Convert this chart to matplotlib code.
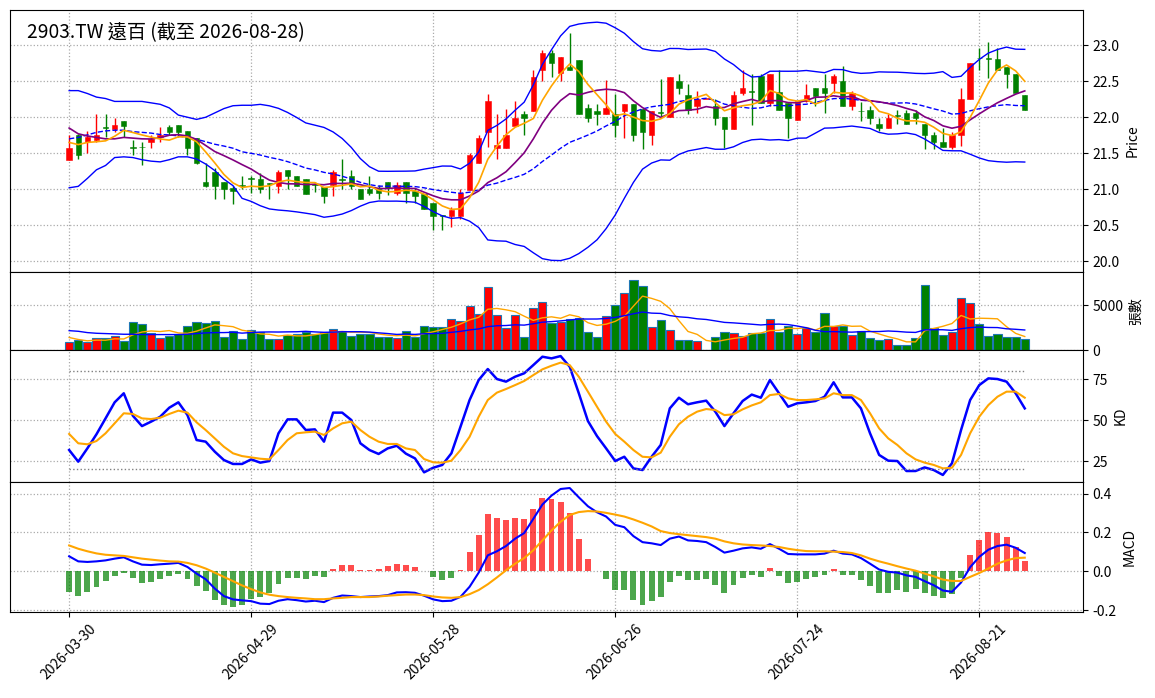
import numpy as np
import pandas as pd
import matplotlib
matplotlib.use("Agg")
import matplotlib.pyplot as plt

plt.rcParams['font.family'] = ['Noto Sans CJK TC', 'DejaVu Sans']
plt.rcParams['axes.unicode_minus'] = False
plt.rcParams['font.size'] = 10

# trading days (TW holidays removed)
holidays = ['2026-04-03', '2026-04-06', '2026-05-01', '2026-06-19']
dates = pd.bdate_range('2026-03-30', '2026-08-28')
dates = dates[~dates.isin(pd.to_datetime(holidays))]

open_ = [21.41, 21.75, 21.65, 21.69, 21.86, 21.84, 21.95, 21.58, 21.59, 21.65,
         21.72, 21.86, 21.89, 21.81, 21.71, 21.10, 21.24, 21.10, 21.02, 21.06,
         21.15, 21.14, 21.08, 21.04, 21.27, 21.18, 21.14, 21.07, 21.03, 21.06,
         21.14, 21.18, 21.00, 21.00, 21.02, 21.10, 20.95, 21.10, 20.97, 20.93,
         20.81, 20.64, 20.63, 20.63, 20.99, 21.37, 21.80, 21.57, 21.57, 21.88,
         22.04, 22.08, 22.65, 22.89, 22.61, 22.70, 22.79, 22.13, 22.09, 22.04,
         22.04, 22.08, 22.19, 22.11, 21.76, 22.07, 22.01, 22.51, 22.31, 22.15,
         22.26, 22.15, 22.00, 21.84, 22.34, 22.36, 22.57, 22.20, 22.35, 22.20,
         21.96, 22.23, 22.40, 22.40, 22.47, 22.51, 22.16, 22.09, 22.10, 21.90,
         21.85, 22.03, 22.06, 22.06, 21.90, 21.75, 21.66, 21.59, 21.75, 22.25,
         22.83, 22.82, 22.81, 22.70, 22.60, 22.31]
high = [21.76, 21.77, 21.81, 22.04, 22.04, 21.99, 21.95, 21.69, 21.65, 21.75,
        21.86, 21.89, 21.89, 21.81, 21.71, 21.37, 21.30, 21.10, 21.04, 21.18,
        21.18, 21.22, 21.09, 21.27, 21.27, 21.18, 21.14, 21.10, 21.03, 21.27,
        21.42, 21.27, 21.00, 21.18, 21.06, 21.10, 21.10, 21.10, 21.02, 20.93,
        20.81, 20.64, 20.76, 21.00, 21.50, 21.75, 22.32, 22.04, 22.12, 22.23,
        22.09, 22.65, 22.93, 22.93, 22.84, 23.17, 22.79, 22.19, 22.19, 22.52,
        22.32, 22.19, 22.19, 22.11, 22.08, 22.53, 22.56, 22.60, 22.46, 22.36,
        22.26, 22.26, 22.00, 22.36, 22.65, 22.60, 22.60, 22.60, 22.65, 22.20,
        22.23, 22.46, 22.40, 22.60, 22.60, 22.71, 22.36, 22.21, 22.16, 21.99,
        22.04, 22.10, 22.10, 22.10, 21.90, 21.80, 21.85, 21.80, 22.40, 22.75,
        22.96, 23.05, 22.96, 22.70, 22.60, 22.31]
low = [21.41, 21.42, 21.51, 21.66, 21.72, 21.79, 21.73, 21.48, 21.33, 21.57,
       21.65, 21.75, 21.72, 21.48, 21.35, 21.03, 20.86, 20.87, 20.80, 21.00,
       20.95, 20.95, 20.87, 20.95, 21.00, 21.04, 20.94, 20.96, 20.81, 20.91,
       21.00, 21.00, 20.86, 20.92, 20.87, 20.92, 20.92, 20.81, 20.81, 20.72,
       20.44, 20.44, 20.48, 20.58, 20.99, 21.37, 21.58, 21.42, 21.57, 21.88,
       21.75, 22.08, 22.51, 22.56, 22.51, 22.66, 22.04, 21.94, 21.89, 22.04,
       21.72, 21.71, 21.67, 21.56, 21.61, 22.01, 22.01, 22.32, 22.04, 22.06,
       22.26, 21.89, 21.57, 21.84, 22.31, 21.89, 22.20, 22.15, 22.10, 21.71,
       21.96, 22.21, 22.15, 22.06, 22.34, 22.16, 22.10, 21.95, 21.90, 21.81,
       21.85, 21.90, 21.90, 21.90, 21.56, 21.56, 21.59, 21.56, 21.60, 22.25,
       22.65, 22.55, 22.65, 22.40, 22.34, 22.10]
close = [21.57, 21.47, 21.72, 21.75, 21.85, 21.89, 21.88, 21.57, 21.58, 21.70,
         21.76, 21.80, 21.80, 21.57, 21.37, 21.05, 21.04, 21.00, 20.98, 21.05,
         21.14, 21.00, 21.07, 21.24, 21.18, 21.04, 20.94, 21.06, 20.90, 21.24,
         21.13, 21.04, 20.86, 20.95, 20.95, 21.02, 21.06, 20.95, 20.91, 20.72,
         20.63, 20.63, 20.71, 20.95, 21.48, 21.71, 22.23, 21.62, 21.75, 21.99,
         21.99, 22.56, 22.89, 22.75, 22.84, 22.66, 22.04, 21.99, 22.04, 22.13,
         21.89, 22.19, 21.76, 21.80, 22.08, 22.06, 22.56, 22.41, 22.10, 22.26,
         22.26, 21.99, 21.84, 22.31, 22.40, 22.35, 22.20, 22.60, 22.10, 21.99,
         22.23, 22.31, 22.29, 22.34, 22.57, 22.16, 22.33, 22.08, 21.99, 21.85,
         21.99, 22.02, 21.90, 21.99, 21.75, 21.65, 21.59, 21.75, 22.25, 22.75,
         22.82, 22.81, 22.65, 22.60, 22.34, 22.10]
volume = [840, 1060, 840, 1350, 1350, 1600, 985, 3140, 2920, 1930,
          1280, 1530, 1825, 2700, 3140, 3030, 3250, 1390, 2150, 1170,
          2260, 1970, 1170, 1170, 1715, 1825, 1970, 1825, 1970, 2370,
          2150, 1600, 1825, 1825, 1500, 1500, 1280, 2150, 1420, 2700,
          2555, 2555, 3430, 3250, 4930, 4015, 7010, 3900, 2480, 3900,
          1500, 4670, 5330, 3030, 3100, 3430, 3580, 2040, 1500, 3800,
          5000, 6315, 7740, 7080, 2555, 3360, 2260, 1060, 1060, 950,
          0, 1500, 2040, 1930, 1600, 1930, 1930, 3430, 2040, 2700,
          1825, 2480, 2040, 4090, 2630, 2700, 1715, 2150, 1280, 1060,
          1170, 510, 510, 1280, 7190, 2480, 1715, 2040, 5770, 5220,
          2920, 1600, 1825, 1390, 1500, 1170]

# indicator values before the window is full
ma5_head = [21.65, 21.62, 21.65, 21.66]
ma10_head = [21.85, 21.77, 21.74, 21.72, 21.70, 21.70, 21.72, 21.71, 21.70]
ma20_head = [21.70, 21.72, 21.755, 21.79, 21.81, 21.82, 21.82, 21.80, 21.79, 21.78,
             21.76, 21.755, 21.74, 21.72, 21.695, 21.66, 21.625, 21.60, 21.57]
upper_head = [22.37, 22.37, 22.33, 22.28, 22.26, 22.22, 22.22, 22.22, 22.22, 22.20,
              22.18, 22.13, 22.03, 22.00, 21.97, 22.00, 22.06, 22.12, 22.16]
lower_head = [21.02, 21.04, 21.15, 21.27, 21.33, 21.44, 21.45, 21.44, 21.41, 21.39,
              21.38, 21.41, 21.45, 21.45, 21.42, 21.35, 21.26, 21.14, 21.05]
vol5_head = [1390, 1170, 1020, 1095]
vol20_head = [2150, 2080, 1935, 1860, 1825, 1790, 1750, 1750, 1715, 1715,
              1715, 1715, 1715, 1750, 1825, 1900, 1935, 1935, 1970]

k_val = [31.7, 24.6, 32.7, 41.3, 51.0, 60.8, 66.3, 52.6, 46.3, 49.0,
         52.0, 57.5, 60.8, 53.0, 37.8, 36.8, 30.7, 25.6, 23.2, 23.2,
         26.0, 24.0, 25.0, 41.9, 50.4, 50.4, 43.9, 44.3, 36.8, 54.5,
         54.5, 50.0, 35.8, 31.7, 29.3, 32.7, 34.3, 29.5, 26.6, 18.1,
         20.9, 22.6, 29.7, 45.9, 62.2, 74.4, 81.1, 75.0, 73.4, 76.4,
         78.5, 83.5, 88.6, 87.6, 89.0, 82.5, 66.3, 49.4, 40.2, 32.7,
         25.0, 27.6, 20.5, 19.5, 27.6, 34.8, 57.1, 63.6, 59.6, 60.8,
         61.8, 55.1, 46.3, 54.1, 61.6, 65.5, 63.6, 74.4, 66.3, 58.1,
         60.2, 60.8, 61.6, 64.2, 73.0, 63.8, 63.8, 57.1, 41.9, 28.7,
         25.2, 25.0, 18.9, 18.9, 21.1, 19.5, 16.5, 23.6, 43.9, 62.2,
         71.3, 75.4, 75.0, 73.4, 66.3, 57.1]
d_val = [41.5, 35.8, 35.2, 37.2, 41.9, 48.0, 54.1, 53.7, 51.0, 50.6,
         51.4, 53.7, 55.7, 54.5, 48.6, 43.9, 38.8, 33.7, 29.7, 28.0,
         27.2, 26.4, 26.0, 31.7, 37.8, 41.9, 42.5, 42.9, 40.9, 44.9,
         48.0, 49.0, 43.9, 39.8, 36.8, 35.4, 35.4, 32.7, 31.7, 26.2,
         24.2, 24.0, 25.2, 31.7, 39.8, 52.0, 62.2, 66.7, 68.9, 71.3,
         73.8, 77.4, 80.9, 83.1, 85.0, 83.5, 76.4, 67.3, 58.1, 49.0,
         41.5, 36.8, 31.7, 27.6, 27.2, 30.1, 39.8, 47.4, 52.0, 55.1,
         56.7, 56.1, 53.0, 53.5, 56.5, 58.9, 60.8, 65.2, 65.9, 63.2,
         62.2, 62.2, 62.6, 63.2, 66.3, 65.2, 65.2, 62.2, 54.1, 44.9,
         38.8, 34.8, 29.7, 26.0, 24.0, 22.6, 20.5, 20.9, 28.7, 41.9,
         52.0, 59.1, 64.2, 67.3, 67.3, 63.6]

dif = [0.077, 0.051, 0.048, 0.051, 0.056, 0.065, 0.072, 0.051, 0.034, 0.032,
       0.036, 0.039, 0.043, 0.022, -0.012, -0.041, -0.089, -0.128, -0.145, -0.150,
       -0.154, -0.167, -0.169, -0.152, -0.144, -0.149, -0.156, -0.152, -0.159, -0.137,
       -0.125, -0.128, -0.133, -0.130, -0.128, -0.123, -0.109, -0.108, -0.111, -0.126,
       -0.145, -0.154, -0.152, -0.132, -0.080, -0.007, 0.082, 0.103, 0.130, 0.168,
       0.197, 0.270, 0.344, 0.390, 0.424, 0.429, 0.381, 0.335, 0.304, 0.282,
       0.239, 0.227, 0.181, 0.150, 0.144, 0.135, 0.168, 0.179, 0.159, 0.156,
       0.150, 0.125, 0.096, 0.106, 0.118, 0.123, 0.116, 0.140, 0.116, 0.089,
       0.087, 0.087, 0.087, 0.091, 0.106, 0.091, 0.087, 0.068, 0.039, 0.009,
       -0.003, -0.007, -0.021, -0.029, -0.051, -0.072, -0.099, -0.106, -0.058, 0.021,
       0.074, 0.111, 0.130, 0.137, 0.121, 0.094]
dea = [0.133, 0.116, 0.103, 0.092, 0.085, 0.082, 0.079, 0.072, 0.065, 0.060,
       0.055, 0.051, 0.050, 0.043, 0.031, 0.014, -0.007, -0.029, -0.051, -0.073,
       -0.092, -0.109, -0.121, -0.128, -0.133, -0.137, -0.140, -0.144, -0.144, -0.140,
       -0.137, -0.133, -0.133, -0.133, -0.130, -0.126, -0.123, -0.120, -0.120, -0.123,
       -0.130, -0.135, -0.137, -0.133, -0.118, -0.097, -0.067, -0.032, 0.005, 0.039,
       0.068, 0.108, 0.159, 0.210, 0.255, 0.290, 0.305, 0.310, 0.308, 0.301,
       0.292, 0.282, 0.267, 0.250, 0.231, 0.207, 0.197, 0.191, 0.186, 0.181,
       0.176, 0.168, 0.154, 0.144, 0.138, 0.135, 0.133, 0.130, 0.125, 0.116,
       0.109, 0.104, 0.103, 0.103, 0.101, 0.099, 0.094, 0.082, 0.065, 0.051,
       0.039, 0.026, 0.014, 0.003, -0.012, -0.026, -0.043, -0.050, -0.050, -0.029,
       -0.009, 0.014, 0.039, 0.056, 0.068, 0.070]
hist = [-0.106, -0.126, -0.106, -0.080, -0.050, -0.024, -0.009, -0.036, -0.058, -0.055,
        -0.039, -0.024, -0.014, -0.039, -0.075, -0.101, -0.147, -0.173, -0.183, -0.173,
        -0.142, -0.132, -0.111, -0.065, -0.034, -0.034, -0.039, -0.024, -0.029, 0.012,
        0.032, 0.032, 0.007, 0.007, 0.012, 0.027, 0.038, 0.032, 0.022, 0.0,
        -0.029, -0.044, -0.034, 0.007, 0.099, 0.186, 0.294, 0.274, 0.263, 0.274,
        0.268, 0.320, 0.376, 0.371, 0.356, 0.299, 0.166, 0.063, 0.0, -0.039,
        -0.096, -0.096, -0.147, -0.173, -0.152, -0.132, -0.055, -0.024, -0.044, -0.044,
        -0.039, -0.070, -0.111, -0.070, -0.034, -0.019, -0.029, 0.017, -0.024, -0.060,
        -0.055, -0.039, -0.029, -0.019, 0.012, -0.019, -0.019, -0.044, -0.075, -0.111,
        -0.111, -0.096, -0.106, -0.091, -0.111, -0.126, -0.137, -0.116, -0.034, 0.084,
        0.161, 0.202, 0.197, 0.176, 0.125, 0.053]


def rolling_with_head(values, window, head, kind='mean'):
    s = pd.Series(values, dtype=float)
    r = s.rolling(window)
    out = (r.mean() if kind == 'mean' else r.std()).values
    out[:window - 1] = head
    return out


n = len(close)
x = np.arange(n)
o = np.array(open_)
c = np.array(close)
h = np.array(high)
l = np.array(low)

ma5 = rolling_with_head(close, 5, ma5_head)
ma10 = rolling_with_head(close, 10, ma10_head)
ma20 = pd.Series(close).rolling(20).mean().values
std20 = pd.Series(close).rolling(20).std().values
upper = ma20 + 2 * std20
lower = ma20 - 2 * std20
ma20[:19] = ma20_head
upper[:19] = upper_head
lower[:19] = lower_head
vol5 = rolling_with_head(volume, 5, vol5_head)
vol20 = rolling_with_head(volume, 20, vol20_head)

up = c >= o
cols = np.where(up, 'red', 'green')

W, H = 1155, 698
fig = plt.figure(figsize=(W / 100, H / 100), dpi=100)
left, right = 10 / W, 1083 / W
rows = [(10, 272), (272, 350), (350, 482), (482, 612)]
axes = []
for top, bot in rows:
    ax = fig.add_axes([left, 1 - bot / H, right - left, (bot - top) / H],
                      sharex=axes[0] if axes else None)
    axes.append(ax)
ax1, ax2, ax3, ax4 = axes

# price panel
ax1.vlines(x, l, h, color=cols, linewidth=1)
body = np.maximum(np.abs(c - o), 0.006)
ax1.bar(x, body, bottom=np.minimum(o, c), width=0.6, color=cols,
        edgecolor=cols, linewidth=0.4)
ax1.plot(x, upper, color='blue', linewidth=1)
ax1.plot(x, lower, color='blue', linewidth=1)
ax1.plot(x, ma20, color='blue', linewidth=1, linestyle='--')
ax1.plot(x, ma10, color='purple', linewidth=1.2)
ax1.plot(x, ma5, color='orange', linewidth=1.2)
ax1.set_ylim(19.85, 23.49)
ax1.set_yticks(np.arange(20.0, 23.01, 0.5))
ax1.yaxis.set_major_formatter(matplotlib.ticker.FormatStrFormatter('%.1f'))
ax1.set_ylabel('Price')
ax1.text(0.016, 0.955, '2903.TW 遠百 (截至 2026-08-28)', transform=ax1.transAxes,
         fontsize=13.8, va='top', ha='left')

# volume panel
ax2.bar(x, volume, width=0.9, color=cols, edgecolor='#1f77b4', linewidth=0.8)
ax2.plot(x, vol5, color='orange', linewidth=1)
ax2.plot(x, vol20, color='blue', linewidth=1)
ax2.set_ylim(0, 8670)
ax2.set_yticks([0, 5000])
ax2.set_ylabel('張數')

# KD panel
ax3.plot(x, k_val, color='blue', linewidth=1.8)
ax3.plot(x, d_val, color='orange', linewidth=1.5)
ax3.plot(x, [80] * n, color='gray', linestyle=':', linewidth=1)
ax3.plot(x, [20] * n, color='gray', linestyle=':', linewidth=1)
ax3.set_ylim(12.2, 92.7)
ax3.set_yticks([25, 50, 75])
ax3.set_ylabel('KD')

# MACD panel
hcols = np.where(np.array(hist) > 0, 'red', 'green')
ax4.bar(x, hist, width=0.65, color=hcols, alpha=0.7)
ax4.plot(x, dif, color='blue', linewidth=1.5)
ax4.plot(x, dea, color='orange', linewidth=1.5)
ax4.set_ylim(-0.21, 0.46)
ax4.set_yticks([-0.2, 0.0, 0.2, 0.4])
ax4.yaxis.set_major_formatter(matplotlib.ticker.FormatStrFormatter('%.1f'))
ax4.set_ylabel('MACD')

tick_pos = list(range(0, n, 20))
for ax in axes:
    ax.yaxis.tick_right()
    ax.yaxis.set_label_position('right')
    ax.grid(True, linestyle=':', color='#aaaaaa', linewidth=0.9)
    ax.set_axisbelow(True)
ax4.set_xlim(-6.5, 111.4)
ax4.set_xticks(tick_pos)
ax4.set_xticklabels([dates[i].strftime('%Y-%m-%d') for i in tick_pos])
ax4.tick_params(axis='x', labelrotation=45)
for ax in axes[:-1]:
    ax.tick_params(axis='x', labelbottom=False, length=0)

fig.savefig('out.png', dpi=100)
